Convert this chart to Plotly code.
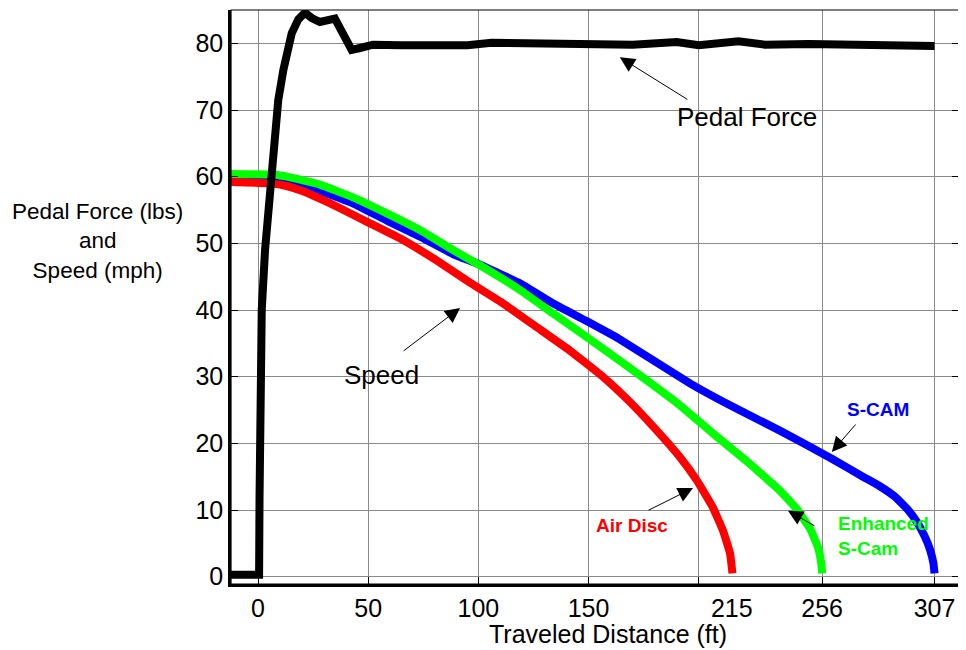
import plotly.graph_objects as go

# ---------------- data ----------------
pedal_x = [-12.3, 0.5, 0.7, 0.9, 1.7, 3.2, 5.1, 7.7, 9.2, 11.5, 15.3, 18.3, 21.3, 24.4,
           28.1, 34.9, 38.7, 42.5, 46.3, 52.2, 65, 80, 95, 106, 115, 130, 150, 170,
           190, 200, 218, 230, 250, 270, 290, 307]
pedal_y = [0.3, 0.3, 12, 27, 40, 49, 56.5, 66.5, 71.5, 76, 81.5, 83.6, 84.6, 83.8,
           83.2, 83.7, 81, 79, 79.3, 79.8, 79.7, 79.8, 79.7, 80.1, 80.1, 79.9, 79.8, 79.8,
           80.2, 79.7, 80.3, 79.8, 79.9, 79.8, 79.9, 79.6]

air_x = [-12.3, 5.4, 13, 20.4, 35.8, 50.8, 65.8, 81.2, 96.2, 111.2, 126.6, 141.6,
         156.5, 168.8, 181, 191.5, 199.2, 206.4, 211, 214.2, 215.3]
air_y = [59.2, 59.0, 58.6, 57.8, 55.5, 53, 50.5, 47.4, 44.1, 41, 37.4, 33.9,
         30, 26.2, 21.9, 17.9, 14.4, 10.4, 6.9, 3.5, 0.5]

enh_x = [-12.3, 8, 13.2, 28.1, 43.1, 58.5, 73.5, 88.5, 100.7, 118.9, 133.8, 149.3,
         164.2, 177, 191.5, 206.4, 221.9, 236.8, 244.6, 250.5, 254.1, 255.6, 256]
enh_y = [60.4, 60.3, 60.0, 58.8, 56.9, 54.5, 52, 49, 46.7, 43, 39.5, 35.9,
         32.4, 29.3, 25.7, 21.5, 17.3, 12.9, 10.1, 7.2, 4.4, 2.0, 0.5]

scam_x = [-12.3, 8, 20, 28.1, 43.1, 58.5, 73.5, 88.5, 100.7, 118.9, 133.8, 149.3,
          164.2, 196, 214.2, 236.8, 260.4, 274.5, 282, 289, 294.5, 299, 302.6, 305,
          306.5, 307]
scam_y = [59.8, 59.7, 58.9, 57.9, 56.0, 53.4, 51.0, 48.4, 46.8, 44, 41, 38.3,
          35.6, 29.0, 25.7, 21.9, 17.7, 15.0, 13.6, 12.0, 10.2, 8.2, 6.0, 4.0,
          2.0, 0.5]

x_label_vals = [0, 50, 100, 150, 215, 256, 307]
x_label_text = ["0", "50", "100", "150", "215", "256", "307"]
x_grid_vals = [0, 50, 100, 150, 200, 256, 307]
y_tick_vals = [0, 10, 20, 30, 40, 50, 60, 70, 80]

FONT = "Liberation Sans, Arial, Helvetica, sans-serif"

fig = go.Figure()
fig.add_trace(go.Scatter(x=scam_x, y=scam_y, mode="lines", line=dict(color="#0000ff", width=8, shape="spline", smoothing=0.3), showlegend=False, hoverinfo="skip"))
fig.add_trace(go.Scatter(x=air_x, y=air_y, mode="lines", line=dict(color="#ff0000", width=8, shape="spline", smoothing=0.3), showlegend=False, hoverinfo="skip"))
fig.add_trace(go.Scatter(x=enh_x, y=enh_y, mode="lines", line=dict(color="#00ff00", width=8, shape="spline", smoothing=0.3), showlegend=False, hoverinfo="skip"))
fig.add_trace(go.Scatter(x=pedal_x, y=pedal_y, mode="lines", line=dict(color="black", width=8), showlegend=False, hoverinfo="skip"))
# invisible traces so the grid / mirror-tick axes are drawn
fig.add_trace(go.Scatter(x=[0], y=[0], xaxis="x2", mode="markers", marker=dict(opacity=0), showlegend=False, hoverinfo="skip"))
fig.add_trace(go.Scatter(x=[0], y=[0], yaxis="y2", mode="markers", marker=dict(opacity=0), showlegend=False, hoverinfo="skip"))

xr = [-12.25, 318.1]
yr = [-1.1, 85]
# page body has an 8px margin, so the figure is 8px smaller than the window
fig.update_layout(
    width=958, height=642,
    margin=dict(l=223, r=7, t=2, b=66),
    plot_bgcolor="white", paper_bgcolor="white",
    font=dict(family=FONT, color="black"),
    xaxis=dict(range=xr, tickmode="array", tickvals=x_label_vals, ticktext=x_label_text,
               showgrid=False, zeroline=False, ticks="", showline=True, linecolor="black",
               linewidth=2.5, tickfont=dict(size=25, family=FONT, color="black")),
    xaxis2=dict(range=xr, overlaying="x", anchor="y", side="bottom", tickmode="array",
                tickvals=x_grid_vals, showticklabels=False, showgrid=True, gridcolor="#8a8a8a",
                gridwidth=1, ticks="inside", ticklen=7, tickcolor="black", showline=False,
                zeroline=False),
    yaxis=dict(range=yr, tickmode="array", tickvals=y_tick_vals, showgrid=True,
               gridcolor="#8a8a8a", gridwidth=1, zeroline=False, ticks="inside", ticklen=7,
               tickcolor="black", showline=True, linecolor="black", linewidth=2.5,
               tickfont=dict(size=25, family=FONT, color="black")),
    yaxis2=dict(range=yr, overlaying="y", anchor="x", side="right", tickmode="array",
                tickvals=y_tick_vals, showticklabels=False, showgrid=False, ticks="inside",
                ticklen=7, tickcolor="black", showline=False, zeroline=False),
    shapes=[dict(type="rect", xref="paper", yref="paper", x0=0, x1=1, y0=0, y1=1,
                 line=dict(color="black", width=1.2), layer="above")],
)

ann = []
# axis titles
ann.append(dict(xref="paper", yref="paper", x=0.518, y=-0.087, text="Traveled Distance (ft)",
                showarrow=False, font=dict(size=25, family=FONT, color="black"),
                xanchor="center", yanchor="middle"))
ann.append(dict(xref="paper", yref="paper", x=-0.184, y=0.598,
                text="Pedal Force (lbs)<br>and<br>Speed (mph)", showarrow=False, align="center",
                font=dict(size=22.5, family=FONT, color="black"), xanchor="center", yanchor="middle"))
# text labels
ann.append(dict(x=221.9, y=68.95, text="Pedal Force", showarrow=False,
                font=dict(size=26, family=FONT, color="black")))
ann.append(dict(x=56, y=30.3, text="Speed", showarrow=False,
                font=dict(size=26, family=FONT, color="black")))
ann.append(dict(x=169.7, y=7.75, text="<b>Air Disc</b>", showarrow=False,
                font=dict(size=19, family=FONT, color="#ff0000")))
ann.append(dict(x=281.5, y=25.1, text="<b>S-CAM</b>", showarrow=False,
                font=dict(size=19, family=FONT, color="#0000ff")))
ann.append(dict(x=262.2, y=6.1, text="<b>Enhanced<br>S-Cam</b>", showarrow=False, align="left",
                xanchor="left", yanchor="middle", font=dict(size=19, family=FONT, color="#00ff00")))
# arrows
for hx, hy, ax, ay in [(164.2, 77.9, 69, 43), (91.7, 40.3, -58, 44), (197.4, 13.3, -46, 23),
                       (260.4, 18.7, 25, -29), (240.5, 9.9, 28, 16)]:
    ann.append(dict(x=hx, y=hy, ax=ax, ay=ay, text="", showarrow=True, arrowhead=2,
                    arrowsize=3, arrowwidth=1, arrowcolor="black", standoff=0))
fig.update_layout(annotations=ann)

fig.write_html("out.html")
